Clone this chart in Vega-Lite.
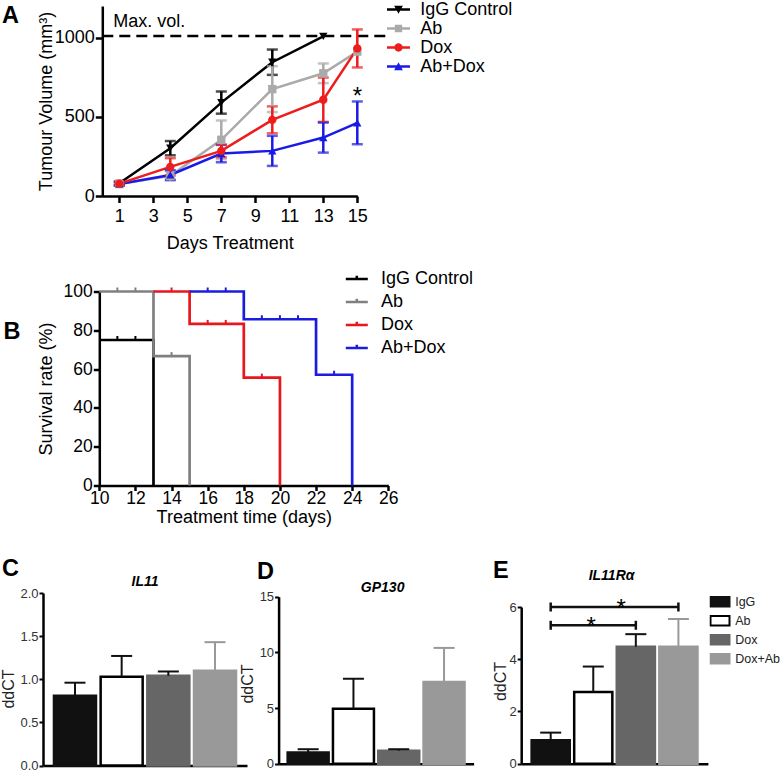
{
"$schema": "https://vega.github.io/schema/vega-lite/v6.json",
"background": "white",
"padding": 0,
"config": {
  "font": "Liberation Sans",
  "view": {"stroke": null},
  "axis": {"grid": false, "labelFlush": false, "labelOverlap": false, "domainColor": "black", "tickColor": "black", "labelColor": "black", "titleColor": "black", "titleFontWeight": "normal", "labelFont": "Liberation Sans", "titleFont": "Liberation Sans"},
  "legend": {"labelFont": "Liberation Sans", "labelColor": "black", "padding": 0},
  "title": {"font": "Liberation Sans", "color": "black"},
  "text": {"font": "Liberation Sans", "color": "black"}
},
"datasets": {
  "tumour": [
    {"g":"IgG Control","d":1,"v":80,"e":12},
    {"g":"IgG Control","d":4,"v":302,"e":45},
    {"g":"IgG Control","d":7,"v":590,"e":70},
    {"g":"IgG Control","d":10,"v":845,"e":80},
    {"g":"IgG Control","d":13,"v":1008,"e":0},
    {"g":"Ab","d":1,"v":75,"e":10},
    {"g":"Ab","d":4,"v":127,"e":30},
    {"g":"Ab","d":7,"v":355,"e":122},
    {"g":"Ab","d":10,"v":675,"e":145},
    {"g":"Ab","d":13,"v":775,"e":62},
    {"g":"Ab","d":15,"v":912,"e":0},
    {"g":"Ab+Dox","d":1,"v":76,"e":10},
    {"g":"Ab+Dox","d":4,"v":133,"e":30},
    {"g":"Ab+Dox","d":7,"v":268,"e":55},
    {"g":"Ab+Dox","d":10,"v":285,"e":95},
    {"g":"Ab+Dox","d":13,"v":369,"e":95},
    {"g":"Ab+Dox","d":15,"v":462,"e":135},
    {"g":"Dox","d":1,"v":78,"e":12},
    {"g":"Dox","d":4,"v":184,"e":55},
    {"g":"Dox","d":7,"v":285,"e":40},
    {"g":"Dox","d":10,"v":481,"e":85},
    {"g":"Dox","d":13,"v":608,"e":140},
    {"g":"Dox","d":15,"v":932,"e":120}
  ],
  "survival": [
    {"g":"IgG Control","t":10,"s":75},
    {"g":"IgG Control","t":13,"s":0},
    {"g":"Ab","t":10,"s":100},
    {"g":"Ab","t":13,"s":66.7},
    {"g":"Ab","t":15,"s":0},
    {"g":"Dox","t":13,"s":100},
    {"g":"Dox","t":15,"s":83.3},
    {"g":"Dox","t":18,"s":55.6},
    {"g":"Dox","t":20,"s":0},
    {"g":"Ab+Dox","t":15,"s":100},
    {"g":"Ab+Dox","t":18,"s":85.7},
    {"g":"Ab+Dox","t":22,"s":57.1},
    {"g":"Ab+Dox","t":24,"s":0}
  ],
  "censor": [
    {"g":"IgG Control","t":11,"s":75},
    {"g":"IgG Control","t":12,"s":75},
    {"g":"Ab","t":11,"s":100},
    {"g":"Ab","t":12,"s":100},
    {"g":"Ab","t":14,"s":66.7},
    {"g":"Dox","t":14,"s":100},
    {"g":"Dox","t":16,"s":83.3},
    {"g":"Dox","t":17,"s":83.3},
    {"g":"Dox","t":19,"s":55.6},
    {"g":"Ab+Dox","t":16,"s":100},
    {"g":"Ab+Dox","t":17,"s":100},
    {"g":"Ab+Dox","t":19,"s":85.7},
    {"g":"Ab+Dox","t":20,"s":85.7},
    {"g":"Ab+Dox","t":21,"s":85.7},
    {"g":"Ab+Dox","t":23,"s":57.1}
  ],
  "il11": [
    {"g":"IgG","m":0.81,"u":0.96},
    {"g":"Ab","m":1.03,"u":1.27},
    {"g":"Dox","m":1.04,"u":1.09},
    {"g":"Dox+Ab","m":1.10,"u":1.43}
  ],
  "gp130": [
    {"g":"IgG","m":1.0,"u":1.3},
    {"g":"Ab","m":4.93,"u":7.63},
    {"g":"Dox","m":1.17,"u":1.3},
    {"g":"Dox+Ab","m":7.33,"u":10.4}
  ],
  "il11ra": [
    {"g":"IgG","m":0.9,"u":1.19},
    {"g":"Ab","m":2.75,"u":3.72},
    {"g":"Dox","m":4.48,"u":4.96},
    {"g":"Dox+Ab","m":4.48,"u":5.54}
  ],
  "brackets": [
    {"a":"IgG","b":"Dox","y":5.3},
    {"a":"IgG","b":"Dox+Ab","y":6.0}
  ]
},
"bounds": "flush",
"spacing": 95.5,
"resolve": {"scale": {"color": "independent", "shape": "independent", "fill": "independent", "stroke": "independent"}, "legend": {"color": "independent", "shape": "independent", "fill": "independent", "stroke": "independent"}},
"vconcat": [
  {
    "width": 314.3,
    "height": 190,
    "resolve": {"scale": {"color": "independent", "shape": "independent"}},
    "layer": [
      {
        "data": {"values": [{"t": "A"}]},
        "mark": {"type": "text", "fontSize": 23.5, "fontWeight": "bold", "align": "left", "baseline": "alphabetic", "dx": -100.3, "dy": 16.7},
        "encoding": {"x": {"datum": 0}, "y": {"datum": 1200}, "text": {"field": "t"}}
      },
      {
        "data": {"values": [{"maxvol": 1010, "label": "Max. vol."}]},
        "mark": {"type": "rule", "strokeDash": [11, 6], "strokeWidth": 2.5, "color": "black"},
        "encoding": {"x": {"datum": 0}, "x2": {"datum": 16.7}, "y": {"field": "maxvol", "type": "quantitative", "title": "Tumour Volume (mm³)"}}
      },
      {
        "data": {"values": [{"maxvol": 1010, "label": "Max. vol."}]},
        "mark": {"type": "text", "align": "left", "baseline": "alphabetic", "fontSize": 18, "dy": -9},
        "encoding": {"x": {"datum": 0.65}, "y": {"field": "maxvol", "type": "quantitative", "title": "Tumour Volume (mm³)"}, "text": {"field": "label"}}
      },
      {
        "data": {"name": "tumour"},
        "mark": {"type": "line", "strokeWidth": 2.5},
        "encoding": {
          "x": {"field": "d", "type": "quantitative", "title": "Days Treatment", "scale": {"domain": [0, 15], "range": [59.3, 314.3], "nice": false, "zero": false},
                "axis": {"title": "Days Treatment", "values": [1,3,5,7,9,11,13,15], "domainWidth": 2.5, "tickWidth": 2.5, "tickSize": 6.5, "labelFontSize": 18, "labelPadding": 4.5, "titleFontSize": 18, "titleY": 52.3, "titleBaseline": "alphabetic"}},
          "y": {"field": "v", "type": "quantitative", "title": "Tumour Volume (mm³)", "scale": {"domain": [0, 1200], "nice": false},
                "axis": {"title": "Tumour Volume (mm³)", "values": [0, 500, 1000], "format": "d", "offset": -59.3, "domainWidth": 2.5, "tickWidth": 2.5, "tickSize": 7, "labelFontSize": 18, "labelPadding": 1, "titleFontSize": 18, "titleX": -55.5, "titleY": 95, "titleAngle": -90, "titleBaseline": "middle", "titleAlign": "center"}},
          "color": {"field": "g", "type": "nominal", "scale": {"domain": ["IgG Control", "Ab", "Dox", "Ab+Dox"], "range": ["#000000", "#aaaaaa", "#ee1c1c", "#1a1ae6"]}, "legend": null}
        }
      },
      {
        "data": {"name": "tumour"},
        "transform": [{"filter": "datum.e > 0"}],
        "mark": {"type": "errorbar", "ticks": {"size": 11, "thickness": 2.5}, "rule": {"strokeWidth": 2.5}},
        "encoding": {
          "x": {"field": "d", "type": "quantitative", "title": "Days Treatment"},
          "y": {"field": "v", "type": "quantitative", "title": "Tumour Volume (mm³)"},
          "yError": {"field": "e"},
          "color": {"field": "g", "type": "nominal", "scale": {"domain": ["IgG Control", "Ab", "Dox", "Ab+Dox"], "range": ["#000000", "#aaaaaa", "#ee1c1c", "#1a1ae6"]}, "legend": null}
        }
      },
      {
        "data": {"name": "tumour"},
        "mark": {"type": "point", "filled": true, "opacity": 1, "size": 70},
        "encoding": {
          "x": {"field": "d", "type": "quantitative", "title": "Days Treatment"},
          "y": {"field": "v", "type": "quantitative", "title": "Tumour Volume (mm³)"},
          "shape": {"field": "g", "type": "nominal", "scale": {"domain": ["IgG Control", "Ab", "Dox", "Ab+Dox"], "range": ["triangle-down", "square", "circle", "triangle-up"]}, "legend": null},
          "color": {"field": "g", "type": "nominal", "scale": {"domain": ["IgG Control", "Ab", "Dox", "Ab+Dox"], "range": ["#000000", "#aaaaaa", "#ee1c1c", "#1a1ae6"]}, "legend": null}
        }
      },
      {
        "data": {"name": "tumour"},
        "transform": [{"filter": "datum.d == 1"}],
        "mark": {"type": "point", "filled": true, "opacity": 0, "size": 529},
        "encoding": {
          "x": {"field": "d", "type": "quantitative", "title": "Days Treatment"},
          "y": {"field": "v", "type": "quantitative", "title": "Tumour Volume (mm³)"},
          "color": {"field": "g", "type": "nominal", "scale": {"domain": ["IgG Control", "Ab", "Dox", "Ab+Dox"], "range": ["#000000", "#aaaaaa", "#ee1c1c", "#1a1ae6"]},
            "legend": {"title": null, "orient": "none", "legendX": 344, "legendY": -6, "symbolSize": 529, "symbolOpacity": 1, "symbolStrokeWidth": 0, "labelFontSize": 18, "labelOffset": 10.3, "clipHeight": 19, "rowPadding": 0}},
          "shape": {"field": "g", "type": "nominal", "legend": null, "scale": {"domain": ["IgG Control", "Ab", "Dox", "Ab+Dox"], "range": ["M-1,-0.11H1V0.11H-1ZM-0.38,-0.32H0.38L0,0.38Z", "M-1,-0.11H1V0.11H-1ZM-0.32,-0.32H0.32V0.32H-0.32Z", "M-1,-0.11H1V0.11H-1ZM-0.36,0A0.36,0.36,0,1,1,0.36,0A0.36,0.36,0,1,1,-0.36,0Z", "M-1,-0.11H1V0.11H-1ZM0.38,0.32H-0.38L0,-0.38Z"]}}
        }
      },
      {
        "data": {"values": [{"t": "*"}]},
        "mark": {"type": "text", "fontSize": 24, "baseline": "alphabetic"},
        "encoding": {"x": {"datum": 15}, "y": {"datum": 580}, "text": {"field": "t"}}
      }
    ]
  },
  {
    "width": 345.3,
    "height": 206,
    "resolve": {"scale": {"color": "independent"}},
    "layer": [
      {
        "data": {"values": [{"t": "B"}]},
        "mark": {"type": "text", "fontSize": 23.5, "fontWeight": "bold", "align": "left", "baseline": "alphabetic", "dx": -95.7, "dy": 47.8},
        "encoding": {"x": {"datum": 10}, "y": {"datum": 100}, "text": {"field": "t"}}
      },
      {
        "data": {"name": "survival"},
        "mark": {"type": "line", "interpolate": "step-after", "strokeWidth": 2.7},
        "encoding": {
          "x": {"field": "t", "type": "quantitative", "title": "Treatment time (days)", "scale": {"domain": [10, 26], "range": [56.3, 345.3], "nice": false, "zero": false},
                "axis": {"title": "Treatment time (days)", "values": [10,12,14,16,18,20,22,24,26], "offset": -12, "domainWidth": 2.5, "tickWidth": 2.5, "tickSize": 5, "labelFontSize": 17.5, "labelPadding": -1, "titleFontSize": 18, "titleY": 37.2, "titleBaseline": "alphabetic"}},
          "y": {"field": "s", "type": "quantitative", "title": "Survival rate (%)", "scale": {"domain": [0, 100], "range": [194, 0], "nice": false},
                "axis": {"title": "Survival rate (%)", "values": [0,20,40,60,80,100], "offset": -56.3, "domainWidth": 2.5, "tickWidth": 2.5, "tickSize": 6, "labelFontSize": 17.5, "labelPadding": 1, "titleFontSize": 18, "titleX": -53, "titleY": 97, "titleAngle": -90, "titleBaseline": "middle", "titleAlign": "center"}},
          "color": {"field": "g", "type": "nominal", "scale": {"domain": ["IgG Control", "Ab", "Dox", "Ab+Dox"], "range": ["#000000", "#808080", "#e8161d", "#1c1ce0"]},
            "legend": {"title": null, "orient": "none", "legendX": 301.3, "legendY": -24, "symbolType": "M-1,0H1M0,0V-0.3", "symbolSize": 484, "symbolStrokeWidth": 2.5, "labelFontSize": 18, "labelOffset": 11.7, "clipHeight": 23, "rowPadding": 0}}
        }
      },
      {
        "data": {"name": "censor"},
        "mark": {"type": "point", "shape": "M0,0V-1", "size": 64, "filled": false, "opacity": 1, "strokeWidth": 2},
        "encoding": {
          "x": {"field": "t", "type": "quantitative", "title": "Treatment time (days)"},
          "y": {"field": "s", "type": "quantitative", "title": "Survival rate (%)"},
          "color": {"field": "g", "type": "nominal", "scale": {"domain": ["IgG Control", "Ab", "Dox", "Ab+Dox"], "range": ["#000000", "#808080", "#e8161d", "#1c1ce0"]}, "legend": null}
        }
      }
    ]
  },
  {
    "bounds": "flush",
    "spacing": 31.6,
    "resolve": {"scale": {"fill": "independent", "stroke": "independent"}, "legend": {"fill": "independent", "stroke": "independent"}},
    "hconcat": [
      {
        "title": {"text": "IL11", "fontSize": 14, "fontWeight": "bold", "fontStyle": "italic", "anchor": "middle", "frame": "group", "baseline": "alphabetic", "offset": 0, "dy": 43.3},
        "width": 204,
        "height": 172.5,
        "data": {"name": "il11"},
        "layer": [
          {
            "mark": {"type": "bar", "strokeWidth": 2.5},
            "encoding": {
              "x": {"field": "g", "type": "nominal", "scale": {"domain": ["IgG", "Ab", "Dox", "Dox+Ab"], "paddingInner": 0.1, "paddingOuter": 0.235}, "axis": {"title": null, "ticks": false, "labels": false, "domainWidth": 2.5}},
              "y": {"field": "m", "type": "quantitative", "title": "ddCT", "scale": {"domain": [0, 2], "nice": false},
                    "axis": {"title": "ddCT", "values": [0, 0.5, 1, 1.5, 2], "format": ".1f", "tickSize": 4, "tickWidth": 2, "domainWidth": 2.5, "labelFontSize": 13, "labelColor": "#333333", "labelPadding": 1, "titleFontSize": 16, "titleColor": "#222222", "titleX": -34.4, "titleY": 95.5, "titleAngle": -90, "titleBaseline": "middle", "titleAlign": "center"}},
              "fill": {"field": "g", "type": "nominal", "scale": {"domain": ["IgG", "Ab", "Dox", "Dox+Ab"], "range": ["#111111", "#ffffff", "#666666", "#999999"]}, "legend": null},
              "stroke": {"field": "g", "type": "nominal", "scale": {"domain": ["IgG", "Ab", "Dox", "Dox+Ab"], "range": ["#111111", "#000000", "#666666", "#999999"]}, "legend": null}
            }
          },
          {
            "mark": {"type": "rule", "strokeWidth": 2},
            "encoding": {
              "x": {"field": "g", "type": "nominal"},
              "y": {"field": "m", "type": "quantitative", "title": "ddCT"},
              "y2": {"field": "u"},
              "color": {"condition": {"test": "datum.g === 'Dox+Ab'", "value": "#999999"}, "value": "#111111"}
            }
          },
          {
            "mark": {"type": "point", "shape": "M-1,0H1", "size": 441, "filled": false, "opacity": 1, "strokeWidth": 2},
            "encoding": {
              "x": {"field": "g", "type": "nominal"},
              "y": {"field": "u", "type": "quantitative", "title": "ddCT"},
              "color": {"condition": {"test": "datum.g === 'Dox+Ab'", "value": "#999999"}, "value": "#111111"}
            }
          },
          {
            "data": {"values": [{"t": "C"}]},
            "mark": {"type": "text", "fontSize": 23.5, "fontWeight": "bold", "align": "left", "baseline": "alphabetic", "dx": -73, "dy": -17.5},
            "encoding": {"x": {"datum": "IgG"}, "y": {"datum": 2}, "text": {"field": "t"}}
          }
        ]
      },
      {
        "title": {"text": "GP130", "fontSize": 14, "fontWeight": "bold", "fontStyle": "italic", "anchor": "middle", "frame": "group", "baseline": "alphabetic", "offset": 0, "dy": 45.8, "dx": -1},
        "width": 210.1,
        "height": 170.7,
        "data": {"name": "gp130"},
        "layer": [
          {
            "mark": {"type": "bar", "strokeWidth": 2.5},
            "encoding": {
              "x": {"field": "g", "type": "nominal", "scale": {"domain": ["IgG", "Ab", "Dox", "Dox+Ab"], "range": [0, 195], "paddingInner": 0.095, "paddingOuter": 0.2}, "axis": {"title": null, "ticks": false, "labels": false, "domainWidth": 2.5}},
              "y": {"field": "m", "type": "quantitative", "title": "ddCT", "scale": {"domain": [0, 15], "range": [170.7, 3.7], "nice": false},
                    "axis": {"title": "ddCT", "values": [0, 5, 10, 15], "tickSize": 4, "tickWidth": 2, "domainWidth": 2.5, "labelFontSize": 13, "labelColor": "#333333", "labelPadding": 1, "titleFontSize": 16, "titleColor": "#222222", "titleX": -31.3, "titleY": 90.5, "titleAngle": -90, "titleBaseline": "middle", "titleAlign": "center"}},
              "fill": {"field": "g", "type": "nominal", "scale": {"domain": ["IgG", "Ab", "Dox", "Dox+Ab"], "range": ["#111111", "#ffffff", "#666666", "#999999"]}, "legend": null},
              "stroke": {"field": "g", "type": "nominal", "scale": {"domain": ["IgG", "Ab", "Dox", "Dox+Ab"], "range": ["#111111", "#000000", "#666666", "#999999"]}, "legend": null}
            }
          },
          {
            "mark": {"type": "rule", "strokeWidth": 2},
            "encoding": {
              "x": {"field": "g", "type": "nominal"},
              "y": {"field": "m", "type": "quantitative", "title": "ddCT"},
              "y2": {"field": "u"},
              "color": {"condition": {"test": "datum.g === 'Dox+Ab'", "value": "#999999"}, "value": "#111111"}
            }
          },
          {
            "mark": {"type": "point", "shape": "M-1,0H1", "size": 441, "filled": false, "opacity": 1, "strokeWidth": 2},
            "encoding": {
              "x": {"field": "g", "type": "nominal"},
              "y": {"field": "u", "type": "quantitative", "title": "ddCT"},
              "color": {"condition": {"test": "datum.g === 'Dox+Ab'", "value": "#999999"}, "value": "#111111"}
            }
          },
          {
            "data": {"values": [{"t": "D"}]},
            "mark": {"type": "text", "fontSize": 23.5, "fontWeight": "bold", "align": "left", "baseline": "alphabetic", "dx": -51.2, "dy": -17.7},
            "encoding": {"x": {"datum": "IgG"}, "y": {"datum": 15}, "text": {"field": "t"}}
          }
        ]
      },
      {
        "title": {"text": "IL11Rα", "fontSize": 14, "fontWeight": "bold", "fontStyle": "italic", "anchor": "middle", "frame": "group", "baseline": "alphabetic", "offset": 0, "dy": 34.5, "dx": -3},
        "width": 186.7,
        "height": 170.7,
        "data": {"name": "il11ra"},
        "layer": [
          {
            "mark": {"type": "bar", "strokeWidth": 2.5},
            "encoding": {
              "x": {"field": "g", "type": "nominal", "scale": {"domain": ["IgG", "Ab", "Dox", "Dox+Ab"], "paddingInner": 0.104, "paddingOuter": 0.245}, "axis": {"title": null, "ticks": false, "labels": false, "domainWidth": 2.5}},
              "y": {"field": "m", "type": "quantitative", "title": "ddCT", "scale": {"domain": [0, 6], "range": [170.7, 14], "nice": false},
                    "axis": {"title": "ddCT", "values": [0, 2, 4, 6], "tickSize": 4, "tickWidth": 2, "domainWidth": 2.5, "labelFontSize": 13, "labelColor": "#333333", "labelPadding": 1, "titleFontSize": 16, "titleColor": "#222222", "titleX": -20.7, "titleY": 88, "titleAngle": -90, "titleBaseline": "middle", "titleAlign": "center"}},
              "fill": {"field": "g", "type": "nominal", "scale": {"domain": ["IgG", "Ab", "Dox", "Dox+Ab"], "range": ["#111111", "#ffffff", "#666666", "#999999"]},
                "legend": {"title": null, "orient": "none", "legendX": 188.3, "legendY": -0.55, "symbolType": "M-1,-0.5H1V0.5H-1Z", "symbolSize": 361, "symbolStrokeWidth": 2, "labelFontSize": 12.5, "labelOffset": 4.7, "clipHeight": 18.7, "rowPadding": 0, "labelColor": "#222222"}},
              "stroke": {"field": "g", "type": "nominal", "scale": {"domain": ["IgG", "Ab", "Dox", "Dox+Ab"], "range": ["#111111", "#000000", "#666666", "#999999"]}}
            }
          },
          {
            "mark": {"type": "rule", "strokeWidth": 2},
            "encoding": {
              "x": {"field": "g", "type": "nominal"},
              "y": {"field": "m", "type": "quantitative", "title": "ddCT"},
              "y2": {"field": "u"},
              "color": {"condition": {"test": "datum.g === 'Dox+Ab'", "value": "#999999"}, "value": "#111111"}
            }
          },
          {
            "mark": {"type": "point", "shape": "M-1,0H1", "size": 441, "filled": false, "opacity": 1, "strokeWidth": 2},
            "encoding": {
              "x": {"field": "g", "type": "nominal"},
              "y": {"field": "u", "type": "quantitative", "title": "ddCT"},
              "color": {"condition": {"test": "datum.g === 'Dox+Ab'", "value": "#999999"}, "value": "#111111"}
            }
          },
          {
            "data": {"name": "brackets"},
            "mark": {"type": "rule", "strokeWidth": 2.5, "color": "#111111"},
            "encoding": {
              "x": {"field": "a", "type": "nominal", "bandPosition": 0.5},
              "x2": {"field": "b", "bandPosition": 0.5},
              "y": {"field": "y", "type": "quantitative", "title": "ddCT"}
            }
          },
          {
            "data": {"name": "brackets"},
            "transform": [{"fold": ["a", "b"]}],
            "mark": {"type": "point", "shape": "M0,-1V1", "size": 81, "filled": false, "opacity": 1, "strokeWidth": 2.5, "color": "#111111"},
            "encoding": {
              "x": {"field": "value", "type": "nominal"},
              "y": {"field": "y", "type": "quantitative", "title": "ddCT"}
            }
          },
          {
            "data": {"values": [{"g": "Dox", "y": 6.0, "t": "*"}]},
            "mark": {"type": "text", "fontSize": 24, "baseline": "alphabetic", "dx": -14.6, "dy": 9},
            "encoding": {"x": {"field": "g", "type": "nominal"}, "y": {"field": "y", "type": "quantitative", "title": "ddCT"}, "text": {"field": "t"}}
          },
          {
            "data": {"values": [{"g": "Ab", "y": 5.3, "t": "*"}]},
            "mark": {"type": "text", "fontSize": 24, "baseline": "alphabetic", "dx": -2.1, "dy": 9},
            "encoding": {"x": {"field": "g", "type": "nominal"}, "y": {"field": "y", "type": "quantitative", "title": "ddCT"}, "text": {"field": "t"}}
          },
          {
            "data": {"values": [{"t": "E"}]},
            "mark": {"type": "text", "fontSize": 23.5, "fontWeight": "bold", "align": "left", "baseline": "alphabetic", "dx": -57.8, "dy": -28.7},
            "encoding": {"x": {"datum": "IgG"}, "y": {"datum": 6}, "text": {"field": "t"}}
          }
        ]
      }
    ]
  }
]
}
